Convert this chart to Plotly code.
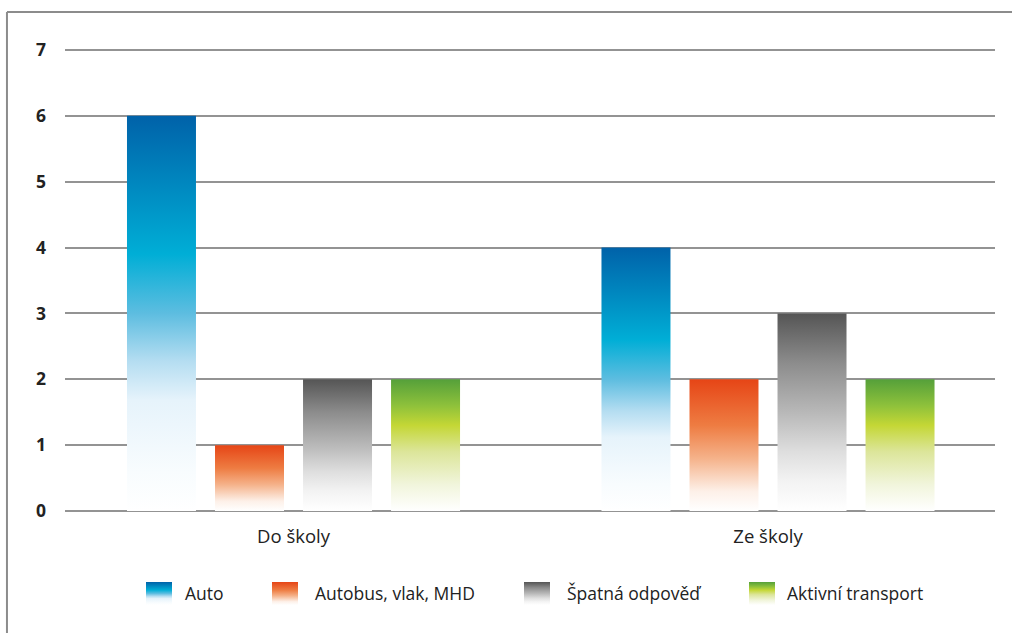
import plotly.graph_objects as go

# --- data -------------------------------------------------------------
categories = ["Do školy", "Ze školy"]
series_names = ["Auto", "Autobus, vlak, MHD", "Špatná odpověď", "Aktivní transport"]
auto = [6, 4]
bus_train = [1, 2]
wrong_answer = [2, 3]
active_transport = [2, 2]
y_ticks = [0, 1, 2, 3, 4, 5, 6, 7]

series_values = [auto, bus_train, wrong_answer, active_transport]

# vertical gradients, 0 = bottom of the bar, 1 = top of the bar
gradients = [
    [[0, "#FFFFFF"], [0.1, "#F8FCFE"], [0.28, "#E6F3FB"], [0.38, "#B4DDF1"],
     [0.5, "#5DBDE0"], [0.65, "#00AED6"], [1, "#0062A9"]],
    [[0, "#FFFFFF"], [0.15, "#FDF0E8"], [0.4, "#F5B28A"], [0.65, "#EE7C42"],
     [1, "#E64516"]],
    [[0, "#FFFFFF"], [0.15, "#F3F3F3"], [0.3, "#DEDEDE"], [0.5, "#B8B8B8"],
     [0.75, "#8C8C8C"], [1, "#555555"]],
    [[0, "#FFFFFF"], [0.2, "#F1F5DC"], [0.45, "#DCE59A"], [0.65, "#C4D735"],
     [0.8, "#8EC13B"], [1, "#55A03A"]],
]

FONT = "Open Sans"
TEXT_COLOR = "#222222"
GRID_COLOR = "#939393"

# --- geometry of grouped bars on a numeric x axis ----------------------
bar_step = 0.1855
bar_width = 0.1454
n_series = len(series_names)

fig = go.Figure()

for s, (name, values, grad) in enumerate(zip(series_names, series_values, gradients)):
    offset = (s - (n_series - 1) / 2) * bar_step
    for c, v in enumerate(values):
        xc = c + offset
        x0, x1 = xc - bar_width / 2, xc + bar_width / 2
        fig.add_trace(go.Scatter(
            x=[x0, x1, x1, x0, x0],
            y=[0, 0, v, v, 0],
            mode="none",
            fill="toself",
            fillgradient=dict(type="vertical", colorscale=grad),
            name=name,
            hovertemplate=f"{categories[c]}<br>{name}: {v}<extra></extra>",
            showlegend=False,
            xaxis="x", yaxis="y",
        ))

# --- legend row drawn on its own pixel-scaled axes ---------------------
swatch_left = [146, 272, 524, 749]
text_left = [185, 315, 567, 787]
swatch_size = 26

for name, grad, sx, tx in zip(series_names, gradients, swatch_left, text_left):
    fig.add_trace(go.Scatter(
        x=[sx, sx + swatch_size, sx + swatch_size, sx, sx],
        y=[0, 0, 1, 1, 0],
        mode="none",
        fill="toself",
        fillgradient=dict(type="vertical", colorscale=grad),
        hoverinfo="skip",
        showlegend=False,
        xaxis="x2", yaxis="y2",
    ))
    fig.add_trace(go.Scatter(
        x=[tx], y=[0.4],
        mode="text",
        text=[name],
        textposition="middle right",
        textfont=dict(family=FONT, size=17.5, color=TEXT_COLOR),
        hoverinfo="skip",
        showlegend=False,
        xaxis="x2", yaxis="y2",
    ))

fig.update_layout(
    width=1012, height=633,
    margin=dict(l=65, r=17, t=40, b=20, autoexpand=False),
    paper_bgcolor="white",
    plot_bgcolor="white",
    showlegend=False,
    font=dict(family=FONT, size=16, color=TEXT_COLOR),
    xaxis=dict(
        domain=[0, 1],
        range=[-0.4816, 1.4784],
        tickmode="array",
        tickvals=list(range(len(categories))),
        ticktext=categories,
        showgrid=False,
        zeroline=False,
        showline=False,
        ticks="",
        ticklabelstandoff=12,
        tickfont=dict(family=FONT, size=18.5, color=TEXT_COLOR),
        automargin=False,
        fixedrange=True,
        anchor="y",
    ),
    yaxis=dict(
        domain=[0.17801, 1],
        range=[0, 7.15],
        tickmode="array",
        tickvals=y_ticks,
        showgrid=True,
        gridcolor=GRID_COLOR,
        gridwidth=1.5,
        zeroline=True,
        zerolinecolor=GRID_COLOR,
        zerolinewidth=1.5,
        showline=False,
        ticks="",
        ticklabelstandoff=18,
        tickfont=dict(family=FONT, size=17.5, color=TEXT_COLOR, weight="bold"),
        automargin=False,
        fixedrange=True,
        anchor="x",
    ),
    xaxis2=dict(domain=[0, 1], range=[65, 995], visible=False,
                automargin=False, fixedrange=True, anchor="y2"),
    yaxis2=dict(domain=[0.01396, 0.0541], range=[0, 1], visible=False,
                automargin=False, fixedrange=True, anchor="x2"),
    shapes=[
        # outer frame: left and top edges
        dict(type="line", xref="paper", yref="paper",
             x0=-0.0624, x1=-0.0624, y0=-0.06, y1=1.0489,
             line=dict(color="#8C8C8C", width=2), layer="above"),
        dict(type="line", xref="paper", yref="paper",
             x0=-0.0624, x1=1.05, y0=1.0489, y1=1.0489,
             line=dict(color="#8C8C8C", width=2), layer="above"),
    ],
)

fig.write_html("out.html")
